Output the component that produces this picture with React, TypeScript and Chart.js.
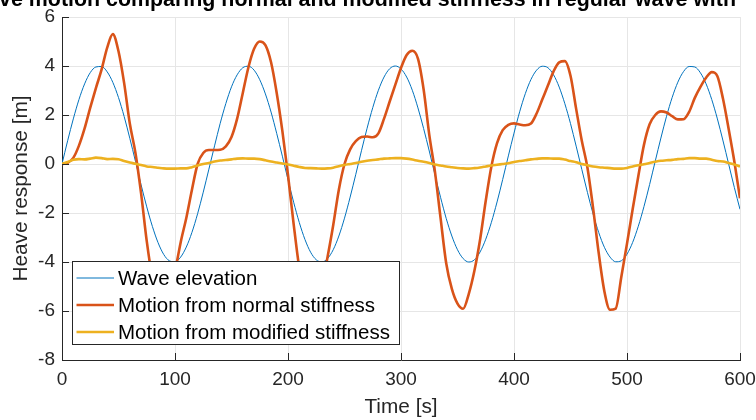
import React, { useEffect, useRef } from "react";
import { Chart, registerables } from "chart.js";

Chart.register(...registerables);

const TITLE = "Heave motion comparing normal and modified stiffness in regular wave with";
const X_LABEL = "Time [s]";
const Y_LABEL = "Heave response [m]";
const SERIES_NAMES = ["Wave elevation", "Motion from normal stiffness", "Motion from modified stiffness"];
const SERIES_COLORS = ["#0072BD", "#D95319", "#EDB120"];
const X_TICKS = [0, 100, 200, 300, 400, 500, 600];
const Y_TICKS = [-8, -6, -4, -2, 0, 2, 4, 6];

const time = [
  0, 5, 10, 15, 20, 25, 30, 35, 40, 45,
  50, 55, 60, 65, 70, 75, 80, 85, 90, 95,
  100, 105, 110, 115, 120, 125, 130, 135, 140, 145,
  150, 155, 160, 165, 170, 175, 180, 185, 190, 195,
  200, 205, 210, 215, 220, 225, 230, 235, 240, 245,
  250, 255, 260, 265, 270, 275, 280, 285, 290, 295,
  300, 305, 310, 315, 320, 325, 330, 335, 340, 345,
  350, 355, 360, 365, 370, 375, 380, 385, 390, 395,
  400, 405, 410, 415, 420, 425, 430, 435, 440, 445,
  450, 455, 460, 465, 470, 475, 480, 485, 490, 495,
  500, 505, 510, 515, 520, 525, 530, 535, 540, 545,
  550, 555, 560, 565, 570, 575, 580, 585, 590, 595,
  600,
];

const waveElevation = [
  0, 0.95, 1.84, 2.63, 3.27, 3.73, 3.96, 3.98, 3.76, 3.33,
  2.71, 1.94, 1.05, 0.11, -0.85, -1.75, -2.55, -3.21, -3.69, -3.95,
  -3.99, -3.8, -3.39, -2.79, -2.03, -1.15, -0.21, 0.74, 1.66, 2.47,
  3.15, 3.64, 3.93, 3.99, 3.83, 3.44, 2.86, 2.12, 1.25, 0.32,
  -0.64, -1.56, -2.39, -3.08, -3.6, -3.91, -4.0, -3.86, -3.5, -2.94,
  -2.21, -1.35, -0.42, 0.54, 1.46, 2.3, 3.01, 3.55, 3.89, 4.0,
  3.88, 3.55, 3.01, 2.29, 1.45, 0.53, -0.43, -1.36, -2.22, -2.94,
  -3.5, -3.86, -4.0, -3.91, -3.59, -3.07, -2.38, -1.55, -0.63, 0.33,
  1.26, 2.13, 2.87, 3.45, 3.83, 3.99, 3.93, 3.64, 3.14, 2.46,
  1.65, 0.73, -0.22, -1.16, -2.04, -2.8, -3.4, -3.8, -3.99, -3.95,
  -3.68, -3.2, -2.54, -1.74, -0.84, 0.12, 1.06, 1.95, 2.72, 3.34,
  3.77, 3.98, 3.96, 3.72, 3.27, 2.63, 1.84, 0.94, -0.01, -0.96,
  -1.85,
];

const normalStiffness = [
  0, 0.05, 0.25, 0.75, 1.45, 2.3, 3.1, 3.85, 4.75, 5.3,
  4.6, 3.3, 1.65, 0.45, -1.2, -3.15, -4.65, -5.5, -5.85, -5.45,
  -4.4, -3.2, -2.2, -1.05, 0.0, 0.45, 0.57, 0.57, 0.58, 0.72,
  1.1, 1.85, 2.9, 3.95, 4.7, 5.0, 4.85, 4.15, 2.9, 1.35,
  -0.45, -2.45, -4.25, -5.4, -5.9, -5.7, -5.0, -3.8, -2.5, -1.05,
  0.0, 0.6, 0.93, 1.1, 1.12, 1.09, 1.25, 1.85, 2.55, 3.24,
  3.92, 4.45, 4.62, 4.3, 3.05, 1.2, -0.3, -2.2, -4.05, -5.1,
  -5.7, -5.91, -5.3, -4.35, -3.08, -1.5, -0.1, 0.85, 1.38, 1.6,
  1.66, 1.61, 1.58, 1.65, 2.06, 2.63, 3.2, 3.78, 4.15, 4.2,
  3.6, 2.25, 0.95, -0.15, -1.8, -3.65, -5.2, -5.95, -5.9, -4.6,
  -3.25, -1.85, -0.5, 0.78, 1.62, 2.0, 2.15, 2.1, 1.95, 1.82,
  1.83, 2.13, 2.7, 3.15, 3.52, 3.75, 3.58, 2.65, 1.42, 0.1,
  -1.4,
];

const modifiedStiffness = [
  0, 0.08, 0.17, 0.2, 0.19, 0.22, 0.26, 0.24, 0.2, 0.21,
  0.19, 0.12, 0.06, 0.01, -0.04, -0.1, -0.12, -0.15, -0.18, -0.19,
  -0.19, -0.18, -0.18, -0.13, -0.06, 0.0, 0.04, 0.1, 0.14, 0.16,
  0.19, 0.22, 0.23, 0.22, 0.22, 0.2, 0.15, 0.1, 0.06, 0.02,
  -0.02, -0.07, -0.12, -0.16, -0.17, -0.18, -0.19, -0.18, -0.15, -0.09,
  -0.04, 0.0, 0.04, 0.09, 0.13, 0.16, 0.19, 0.22, 0.23, 0.24,
  0.24, 0.22, 0.18, 0.13, 0.09, 0.04, -0.02, -0.06, -0.1, -0.13,
  -0.16, -0.18, -0.19, -0.17, -0.14, -0.1, -0.06, -0.03, 0.0, 0.03,
  0.08, 0.12, 0.15, 0.19, 0.21, 0.23, 0.23, 0.22, 0.22, 0.18,
  0.12, 0.07, 0.0, -0.05, -0.1, -0.13, -0.15, -0.17, -0.19, -0.19,
  -0.16, -0.1, -0.05, -0.01, 0.04, 0.09, 0.13, 0.15, 0.17, 0.2,
  0.21, 0.24, 0.24, 0.22, 0.22, 0.17, 0.12, 0.1, 0.04, -0.02,
  -0.1,
];

const FONT = '"Liberation Sans", Arial, Helvetica, sans-serif';
const INK = "#262626";
const GRID = "#e6e6e6";

const matlabDecor = {
  id: "matlabDecor",
  afterDraw(chart: any) {
    const { ctx, chartArea, scales } = chart;
    const xs = scales.x;
    const ys = scales.y;
    ctx.save();

    // inward tick marks
    ctx.strokeStyle = INK;
    ctx.lineWidth = 1;
    ctx.beginPath();
    X_TICKS.forEach((v) => {
      const px = Math.round(xs.getPixelForValue(v)) + 0.5;
      ctx.moveTo(px, chartArea.bottom);
      ctx.lineTo(px, chartArea.bottom - 7);
    });
    Y_TICKS.forEach((v) => {
      const py = Math.round(ys.getPixelForValue(v)) + 0.5;
      ctx.moveTo(chartArea.left, py);
      ctx.lineTo(chartArea.left + 7, py);
    });
    ctx.stroke();

    // legend box
    const fontSize = 20.5;
    ctx.font = `${fontSize}px ${FONT}`;
    const textW = Math.max(...SERIES_NAMES.map((n) => ctx.measureText(n).width));
    const boxL = Math.round(chartArea.left + 10);
    const boxB = Math.round(chartArea.bottom - 16);
    const boxH = 83;
    const boxT = boxB - boxH;
    const boxW = Math.round(46 + textW + 9);
    ctx.fillStyle = "#ffffff";
    ctx.fillRect(boxL, boxT, boxW, boxH);
    ctx.strokeStyle = INK;
    ctx.lineWidth = 1;
    ctx.strokeRect(boxL + 0.5, boxT + 0.5, boxW, boxH);
    chart.data.datasets.forEach((ds: any, i: number) => {
      const cy = boxT + 17 + 27 * i;
      ctx.strokeStyle = ds.borderColor;
      ctx.lineWidth = ds.borderWidth;
      ctx.beginPath();
      ctx.moveTo(boxL + 4.5, cy);
      ctx.lineTo(boxL + 42, cy);
      ctx.stroke();
      ctx.fillStyle = "#000000";
      ctx.textAlign = "left";
      ctx.textBaseline = "middle";
      ctx.fillText(ds.label, boxL + 46, cy + 1);
    });

    // title (partly outside the canvas, as in the original)
    ctx.font = `bold 21.4px ${FONT}`;
    ctx.fillStyle = "#000000";
    ctx.textAlign = "right";
    ctx.textBaseline = "alphabetic";
    ctx.fillText(TITLE, chartArea.right - 4, 6);

    ctx.restore();
  },
};

export default function App() {
  const ref = useRef<HTMLCanvasElement>(null);

  useEffect(() => {
    const canvas = ref.current;
    if (!canvas) return;
    const series = [waveElevation, normalStiffness, modifiedStiffness];
    const widths = [1, 2.6, 2.6];
    const chart = new Chart(canvas, {
      type: "line",
      data: {
        datasets: series.map((vals, i) => ({
          label: SERIES_NAMES[i],
          data: time.map((t, k) => ({ x: t, y: vals[k] })),
          borderColor: SERIES_COLORS[i],
          backgroundColor: SERIES_COLORS[i],
          borderWidth: widths[i],
          pointRadius: 0,
          fill: false,
          cubicInterpolationMode: "monotone" as const,
          order: 3 - i,
        })),
      },
      options: {
        responsive: false,
        animation: false,
        devicePixelRatio: 1,
        layout: { padding: { left: 0, right: 16, top: 17, bottom: 0 } },
        plugins: {
          legend: { display: false },
          tooltip: { enabled: false },
          title: { display: false },
        },
        scales: {
          x: {
            type: "linear",
            min: 0,
            max: 600,
            afterBuildTicks: (s: any) => {
              s.ticks = X_TICKS.map((v) => ({ value: v }));
            },
            afterFit: (s: any) => {
              s.height = 60;
              s.paddingLeft = 0;
              s.paddingRight = 0;
            },
            ticks: {
              font: { family: FONT, size: 19 },
              color: INK,
              padding: 8,
              maxRotation: 0,
              autoSkip: false,
            },
            grid: { color: GRID, lineWidth: 1, drawTicks: false },
            border: { color: INK, width: 1 },
            title: {
              display: true,
              text: X_LABEL,
              color: INK,
              font: { family: FONT, size: 20.8 },
              padding: { top: 0, bottom: 0 },
            },
          },
          y: {
            type: "linear",
            min: -8,
            max: 6,
            afterBuildTicks: (s: any) => {
              s.ticks = Y_TICKS.map((v) => ({ value: v }));
            },
            afterFit: (s: any) => {
              s.width = 62;
              s.paddingTop = 0;
              s.paddingBottom = 0;
            },
            ticks: {
              font: { family: FONT, size: 19 },
              color: INK,
              padding: 7,
              autoSkip: false,
            },
            grid: { color: GRID, lineWidth: 1, drawTicks: false },
            border: { color: INK, width: 1 },
            title: {
              display: true,
              text: Y_LABEL,
              color: INK,
              font: { family: FONT, size: 20.8 },
              padding: { top: 9, bottom: 0 },
            },
          },
        },
      },
      plugins: [matlabDecor],
    });
    return () => chart.destroy();
  }, []);

  return (
    <div style={{ position: "absolute", left: 0, top: 0, width: 756, height: 420, background: "#ffffff" }}>
      <canvas ref={ref} width={756} height={420} style={{ display: "block" }} />
    </div>
  );
}
